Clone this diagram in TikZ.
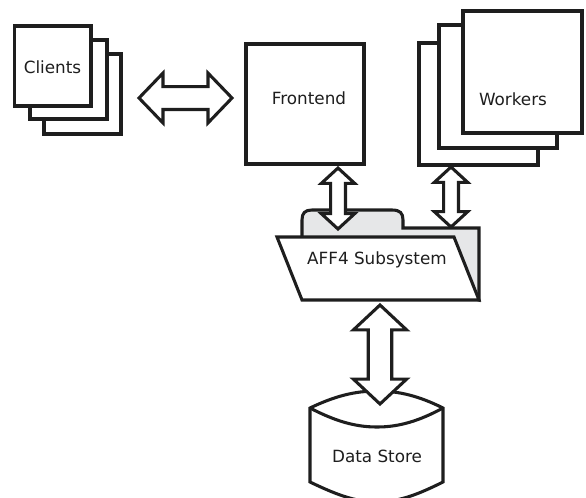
\documentclass[tikz,border=0pt]{standalone}
\usepackage{fontspec}
\setmainfont{DejaVu Sans}
\usetikzlibrary{calc}
\definecolor{ink}{HTML}{1E1E1E}
\definecolor{tabgrey}{HTML}{E6E7E8}
\tikzset{
  x=0.75pt,y=-0.75pt,
  outline/.style={draw=ink,line width=2.3pt,line join=miter,miter limit=10,fill=white},
  box/.style={outline,rectangle,inner sep=0pt,outer sep=0pt},
  lbl/.style={text=ink,font=\fontsize{12.6pt}{14pt}\selectfont,inner sep=0pt},
}
% name, x1, y1, x2, y2 (pixels)
\newcommand\pxbox[5]{%
  \pgfmathsetmacro\bw{(#4-#2)*0.75}\pgfmathsetmacro\bh{(#5-#3)*0.75}%
  \pgfmathsetmacro\bx{(#2+#4)/2}\pgfmathsetmacro\by{(#3+#5)/2}%
  \node[box,minimum width=\bw pt,minimum height=\bh pt] (#1) at (\bx,\by) {};}
% from, to, head length, half shaft, half head (pt)
\newcommand\blockarrow[5]{%
  \draw[outline] (#1)
   -- ($(#1)!#3!(#2)!#5!90:(#2)$) -- ($(#1)!#3!(#2)!#4!90:(#2)$)
   -- ($(#2)!#3!(#1)!#4!-90:(#1)$) -- ($(#2)!#3!(#1)!#5!-90:(#1)$)
   -- (#2)
   -- ($(#2)!#3!(#1)!#5!90:(#1)$) -- ($(#2)!#3!(#1)!#4!90:(#1)$)
   -- ($(#1)!#3!(#2)!#4!-90:(#2)$) -- ($(#1)!#3!(#2)!#5!-90:(#2)$)
   -- cycle;}
\begin{document}
\begin{tikzpicture}
\useasboundingbox (0,0) rectangle (586,497);
\clip (0,0) rectangle (586,497);
% Clients
\pxbox{clientsC}{44}{54}{121}{134}
\pxbox{clientsB}{30}{40}{107}{119}
\pxbox{clientsA}{14.5}{26}{91}{106}
\node[lbl] (clients) at (52.5,67) {Clients};
% Frontend
\pxbox{frontend}{246}{44}{364}{164}
\node[lbl] (frontendL) at (309,98) {Frontend};
% Workers
\pxbox{workersC}{419}{43}{538}{165}
\pxbox{workersB}{439}{25}{557}{148}
\pxbox{workersA}{463}{11}{582}{133}
\node[lbl] (workers) at (513,99) {Workers};
% Folder
\draw[outline,fill=tabgrey] (302,240) -- (302,220) .. controls (302,213) and (305,210) .. (312,210)
  -- (392,210) .. controls (400,210) and (403,213) .. (403,220) -- (403,228) -- (479,228) -- (479,300) -- cycle;
\draw[outline] (277,237) -- (454,237) -- (479,300) -- (302,300) -- cycle;
\node[lbl] (aff) at (377,260) {AFF4 Subsystem};
% Data store
\draw[outline] (310,408) .. controls (335,396) and (355,391) .. (377,391)
  .. controls (399,391) and (419,396) .. (443,408) -- (443,482)
  .. controls (419,494) and (399,502) .. (377,502)
  .. controls (355,502) and (335,494) .. (310,482) -- cycle;
\draw[draw=ink,line width=2.3pt] (310,408) .. controls (335,421) and (355,427) .. (377,427)
  .. controls (399,427) and (419,421) .. (443,408);
\node[lbl] (store) at (377,456) {Data Store};
% Connectors
\coordinate (c1) at (139,98);
\coordinate (c2) at (232,98);
\blockarrow{c1}{c2}{18pt}{8.6pt}{18.7pt}
\coordinate (f1) at (338,168);
\coordinate (f2) at (338,229);
\blockarrow{f1}{f2}{11.5pt}{5.6pt}{12.5pt}
\coordinate (w1) at (451,167);
\coordinate (w2) at (451,227);
\blockarrow{w1}{w2}{11.5pt}{5.6pt}{12.5pt}
\coordinate (s1) at (380,305);
\coordinate (s2) at (380,404);
\blockarrow{s1}{s2}{18.7pt}{8.8pt}{20pt}
\end{tikzpicture}
\end{document}
